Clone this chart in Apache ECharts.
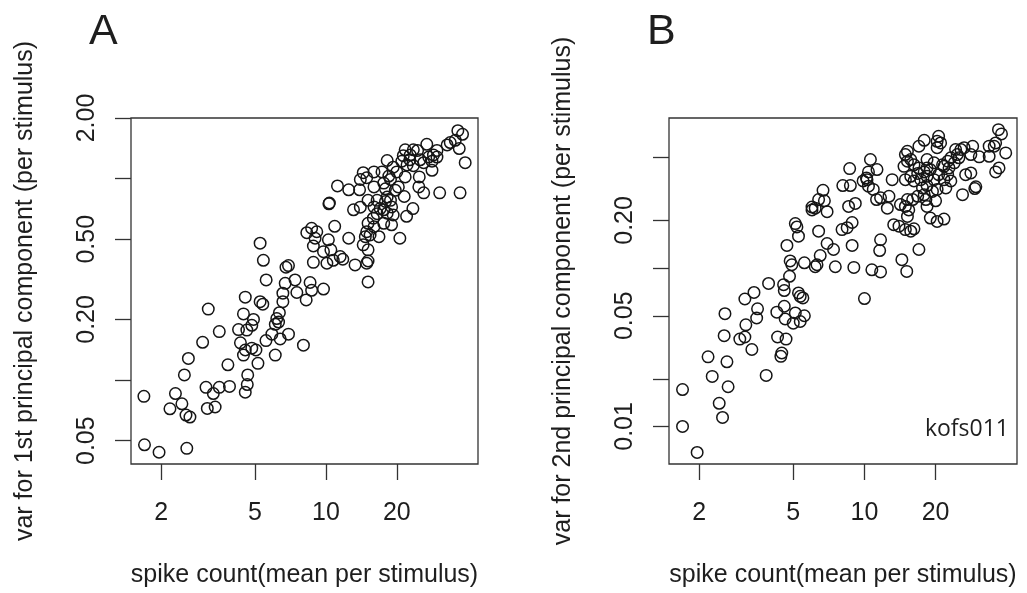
<!DOCTYPE html>
<html>
<head>
<meta charset="utf-8">
<title>spike count vs principal component variance</title>
<script src="https://cdn.jsdelivr.net/npm/echarts@6/dist/echarts.min.js"></script>
<style>
	html, body { margin: 0; padding: 0; background: #fff; }
	#main { width: 1027px; height: 593px; }
</style>
</head>
<body>
<div id="main"></div>
<script>
// panel A : var of 1st PC vs mean spike count
var aSpikeCount = [36.3,38.0,33.7,35.4,36.8,39.0,37.1,30.4,26.8,29.6,
	28.6,28.2,28.2,26.0,24.5,21.7,21.3,22.7,22.1,23.5,
	24.9,24.8,26.0,21.5,22.0,23.4,20.6,18.2,17.3,14.4,
	14.9,16.0,17.6,18.8,20.0,20.3,18.2,17.9,17.0,16.5,
	15.9,15.1,14.9,15.4,16.8,19.0,18.2,19.0,17.6,14.4,
	15.1,15.1,14.9,15.1,13.9,12.5,11.2,10.35,10.3,13.1,
	14.0,15.1,10.9,12.5,10.25,8.3,8.7,9.15,9.0,8.85,
	9.77,10.5,11.5,11.8,10.75,10.1,13.3,8.85,5.26,5.43,
	5.58,6.77,6.94,6.72,7.4,8.57,8.7,9.77,7.53,8.25,
	6.57,6.57,4.55,5.26,5.4,4.47,4.93,4.85,4.62,4.26,
	6.35,6.19,6.3,6.1,5.9,6.4,6.94,5.57,8.03,6.1,
	4.34,4.55,4.85,5.05,4.47,5.15,3.84,3.53,3.0,3.17,
	2.61,2.51,3.10,3.33,3.53,3.9,4.66,4.64,4.55,2.30,
	2.45,2.18,2.55,2.65,3.14,3.39,1.69,1.70,1.96,2.57,
	19.3,21.0,22.8,21.7,19.7,17.9,16.5,16.0,18.8,19.3,
	17.6,16.0,14.7,25.1,27.3,29.6,23.5,32.7,14.0,16.0,
	18.5];
var aVarPC1 = [1.73,1.66,1.51,1.55,1.41,1.20,0.85,0.85,1.48,1.38,
	1.31,1.22,1.10,1.20,1.38,1.39,1.30,1.24,1.17,1.16,
	1.02,0.91,0.85,0.815,0.65,0.71,0.506,1.23,1.08,1.07,
	1.01,0.91,0.95,0.99,1.08,0.91,0.81,0.77,0.71,0.67,
	0.636,0.60,0.545,0.525,0.515,0.59,0.674,0.724,0.70,0.469,
	0.443,0.39,0.38,0.307,0.88,0.88,0.92,0.757,0.75,0.70,
	0.722,0.78,0.58,0.506,0.497,0.539,0.567,0.545,0.506,0.463,
	0.434,0.443,0.41,0.398,0.393,0.38,0.373,0.384,0.478,0.393,
	0.314,0.363,0.37,0.302,0.314,0.305,0.279,0.283,0.272,0.25,
	0.27,0.245,0.258,0.245,0.238,0.213,0.200,0.187,0.177,0.178,
	0.216,0.202,0.194,0.189,0.169,0.160,0.169,0.157,0.149,0.133,
	0.153,0.141,0.144,0.141,0.133,0.121,0.119,0.174,0.154,0.225,
	0.128,0.106,0.092,0.0857,0.092,0.093,0.106,0.095,0.087,0.0857,
	0.0762,0.072,0.067,0.0655,0.0723,0.0735,0.083,0.0477,0.0438,0.0458,
	1.14,1.22,1.31,1.02,0.875,0.89,0.78,0.724,0.78,0.66,
	0.60,0.577,0.515,1.24,1.28,1.28,1.39,1.47,0.99,1.08,
	1.03];

// panel B : var of 2nd PC vs mean spike count
var bSpikeCount = [36.9,38.0,35.9,33.7,39.6,37.1,35.9,33.7,30.6,28.2,
	28.7,26.4,25.6,24.3,24.7,23.2,22.5,21.7,22.8,24.0,
	20.6,20.3,21.0,17.9,17.0,15.2,14.9,15.7,14.7,16.2,
	18.4,19.7,19.0,17.9,16.8,15.7,14.9,16.2,17.3,18.4,
	19.7,20.6,21.7,23.2,22.1,20.3,26.8,28.2,26.0,29.6,
	29.3,13.1,14.2,15.2,14.9,15.4,15.2,16.0,16.8,17.9,
	18.2,18.4,20.0,19.0,20.3,21.7,13.3,14.0,14.9,15.7,
	16.2,17.0,14.4,15.1,10.6,11.3,10.4,10.2,9.87,10.4,
	10.9,11.7,11.25,12.7,12.5,8.66,8.1,8.72,6.68,6.4,
	6.77,6.19,6.0,6.95,8.57,9.15,8.04,8.45,8.87,11.7,
	11.6,8.87,9.02,10.75,11.7,5.1,5.18,5.26,6.4,6.95,
	7.4,6.5,6.3,6.19,7.53,5.57,4.85,4.93,4.7,4.82,
	4.55,4.58,3.93,3.41,3.12,5.26,5.35,10.0,3.53,3.5,
	4.26,4.58,4.62,5.1,5.49,5.57,5.35,5.0,2.57,2.55,
	2.97,3.12,3.15,3.34,4.29,4.66,4.47,4.43,3.84,2.18,
	2.62,2.27,2.65,1.70,2.43,2.51,1.70,1.96,17.0,18.4,
	21.4,22.5,18.4,17.6,19.4,15.2,25.1,35.4,20.3,10.25,
	6.0];
var bVarPC2 = [0.749,0.704,0.617,0.589,0.534,0.429,0.405,0.508,0.504,0.521,
	0.588,0.576,0.561,0.561,0.521,0.497,0.473,0.439,0.429,0.462,
	0.68,0.632,0.617,0.641,0.588,0.546,0.521,0.485,0.439,0.449,
	0.485,0.462,0.419,0.405,0.396,0.380,0.362,0.355,0.362,0.380,
	0.362,0.389,0.362,0.355,0.321,0.314,0.389,0.399,0.291,0.326,
	0.318,0.362,0.252,0.271,0.245,0.233,0.212,0.271,0.284,0.291,
	0.271,0.245,0.266,0.207,0.197,0.204,0.188,0.184,0.175,0.171,
	0.177,0.131,0.113,0.0953,0.485,0.419,0.405,0.371,0.355,0.329,
	0.314,0.278,0.271,0.284,0.239,0.425,0.332,0.332,0.310,0.271,
	0.266,0.239,0.233,0.227,0.245,0.256,0.175,0.180,0.194,0.151,
	0.129,0.139,0.101,0.0975,0.0946,0.191,0.182,0.159,0.171,0.143,
	0.131,0.120,0.105,0.102,0.102,0.108,0.111,0.105,0.139,0.0887,
	0.0786,0.0721,0.080,0.0702,0.0638,0.0697,0.0663,0.0642,0.0553,0.0484,
	0.0527,0.0574,0.0477,0.0521,0.0648,0.0500,0.0460,0.0449,0.0515,0.0374,
	0.0356,0.0367,0.0438,0.0306,0.0367,0.0356,0.0291,0.0277,0.0210,0.0275,
	0.0256,0.0207,0.0178,0.0171,0.0140,0.0114,0.0100,0.00685,0.429,0.429,
	0.449,0.389,0.332,0.321,0.305,0.473,0.497,0.588,0.576,0.362,
	0.243];

// axis ranges and ticks
var xRange = [1.49, 44.2];
var xTicks = [2, 5, 10, 20];
var aYRange = [0.0383, 2.0];
var aYTicks = [0.05, 0.1, 0.2, 0.5, 1, 2];
var aYLabels = [0.05, 0.2, 0.5, 2];
var bYRange = [0.00579, 0.887];
var bYTicks = [0.01, 0.02, 0.05, 0.1, 0.2, 0.5];
var bYLabels = [0.01, 0.05, 0.2];

var font = "'Liberation Sans', Arial, Helvetica, sans-serif";
var ink = '#1e1e1e';
var frame = '#333';

function pairs(xs, ys){
	return xs.map(function(x, i){ return [x, ys[i]]; });
}

function xAxisOf(gi){
	return {
		type: 'log', gridIndex: gi, min: xRange[0], max: xRange[1],
		name: 'spike count(mean per stimulus)', nameLocation: 'middle', nameGap: 99,
		nameTextStyle: { fontSize: 25, color: ink, fontFamily: font },
		axisLine: { show: false },
		axisTick: { show: true, inside: false, length: 16, customValues: xTicks,
			lineStyle: { color: frame, width: 1.3 } },
		axisLabel: { customValues: xTicks, margin: 37, fontSize: 25, color: ink, fontFamily: font,
			formatter: function(v){ return String(v); } },
		splitLine: { show: false }
	};
}

function yAxisOf(gi, range, ticks, labels, name){
	return {
		type: 'log', gridIndex: gi, min: range[0], max: range[1],
		name: name, nameLocation: 'middle', nameGap: 93,
		nameTextStyle: { fontSize: 25, color: ink, fontFamily: font },
		axisLine: { show: false },
		axisTick: { show: true, inside: false, length: 16, customValues: ticks,
			lineStyle: { color: frame, width: 1.3 } },
		axisLabel: { customValues: labels, rotate: 90, margin: 31, fontSize: 25, color: ink, fontFamily: font,
			formatter: function(v){ return Number(v).toFixed(2); } },
		splitLine: { show: false }
	};
}

function scatterOf(gi, data){
	return {
		type: 'scatter', xAxisIndex: gi, yAxisIndex: gi,
		data: data, symbol: 'circle', symbolSize: 11.5, silent: true,
		itemStyle: { color: 'rgba(0,0,0,0)', borderColor: '#151515', borderWidth: 1.5, opacity: 1 }
	};
}

var chart = echarts.init(document.getElementById('main'), null, { renderer: 'canvas' });

chart.setOption({
	animation: false,
	backgroundColor: '#fff',
	grid: [
		{ left: 131, top: 118, width: 347, height: 346, show: true, borderColor: frame, borderWidth: 1.3, outerBoundsMode: 'none' },
		{ left: 669, top: 118, width: 348, height: 346, show: true, borderColor: frame, borderWidth: 1.3, outerBoundsMode: 'none' }
	],
	xAxis: [ xAxisOf(0), xAxisOf(1) ],
	yAxis: [
		yAxisOf(0, aYRange, aYTicks, aYLabels, 'var for 1st principal component (per stimulus)'),
		yAxisOf(1, bYRange, bYTicks, bYLabels, 'var for 2nd principal component (per stimulus)')
	],
	series: [
		scatterOf(0, pairs(aSpikeCount, aVarPC1)),
		scatterOf(1, pairs(bSpikeCount, bVarPC2))
	],
	graphic: [
		{ type: 'text', left: 89, top: 11, style: { text: 'A', fontSize: 43, fill: ink, fontFamily: font } },
		{ type: 'text', left: 647, top: 11, style: { text: 'B', fontSize: 43, fill: ink, fontFamily: font } },
		{ type: 'text', right: 1027 - 1009, top: 418, style: { text: 'kofs011', fontSize: 23, fill: ink, fontFamily: "'Open Sans', 'Liberation Sans', sans-serif" } }
	]
});

window.addEventListener('resize', function(){ chart.resize(); });
</script>
</body>
</html>
